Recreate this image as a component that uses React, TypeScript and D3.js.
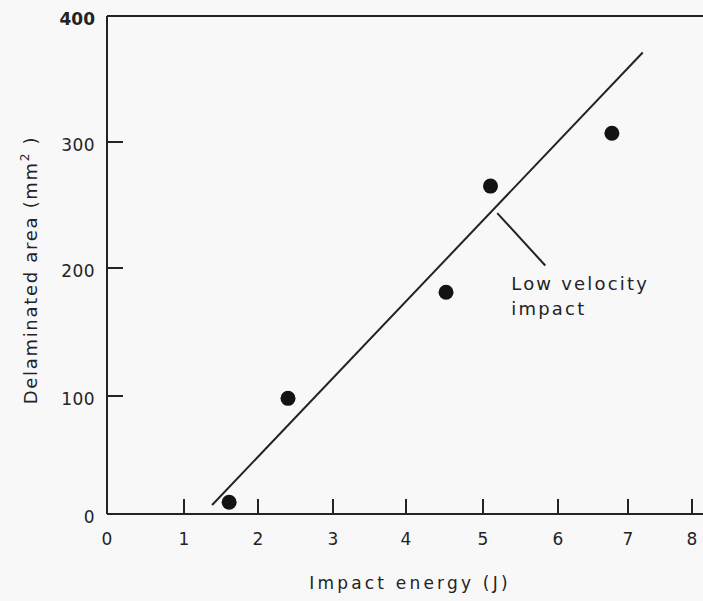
import React from "react";
import * as d3 from "d3";

// Impact tests: delaminated area against impact energy
const energyTicks = [0, 1, 2, 3, 4, 5, 6, 7, 8];
const areaTicks = [0, 100, 200, 300, 400];
const impactEnergy = [1.61, 2.4, 4.52, 5.1, 6.77];
const delaminatedArea = [10, 98, 181, 265, 307];
// straight-line fit through the measurements
const fitEnergy = [1.38, 7.23];
const fitArea = [7.6, 371];
// callout
const calloutLines = ["Low velocity", "impact"];
const calloutFrom = [5.19, 243.6];
const calloutTo = [5.83, 202];

const W = 703;
const H = 601;
const FONT = "'DejaVu Sans', 'Open Sans', sans-serif";
const INK = "#232326";

export default function App() {
  // axis breakpoints (the printed axes are slightly uneven)
  const x = d3
    .scaleLinear()
    .domain(energyTicks)
    .range([107, 184, 258, 333, 406, 483, 558, 628, 692]);
  const y = d3
    .scaleLinear()
    .domain(areaTicks)
    .range([514, 396, 268, 142, 16]);

  const x0 = x(0);
  const y0 = y(0);
  const yTop = y(400);

  const fitPath = d3.line<number>()
    .x((d) => x(fitEnergy[d]))
    .y((d) => y(fitArea[d]))([0, 1]) as string;

  const cx1 = x(calloutFrom[0]);
  const cy1 = y(calloutFrom[1]);
  const cx2 = x(calloutTo[0]);
  const cy2 = y(calloutTo[1]);

  return (
    <svg
      width={W}
      height={H}
      style={{ position: "absolute", left: 0, top: 0, background: "#f8f8f9" }}
      fontFamily={FONT}
    >
      <rect x={0} y={0} width={W} height={H} fill="#f8f8f9" />

      {/* frame: left axis, top rule, bottom axis */}
      <line x1={x0} y1={yTop} x2={x0} y2={y0} stroke={INK} strokeWidth={2} />
      <line x1={x0} y1={yTop} x2={W} y2={yTop} stroke={INK} strokeWidth={2} />
      <line x1={x0} y1={y0} x2={W} y2={y0} stroke={INK} strokeWidth={2} />

      {/* y ticks and labels */}
      {areaTicks.map((t) => (
        <g key={"y" + t}>
          {t > 0 && t < 400 && (
            <line x1={x0} x2={x0 + 16} y1={y(t)} y2={y(t)} stroke={INK} strokeWidth={2} />
          )}
          <text
            x={95}
            y={y(t) + 9}
            textAnchor="end"
            fontSize={17}
            fill={INK}
            fontWeight={t === 400 ? "bold" : "normal"}
            letterSpacing={t === 400 ? 0 : 0.4}
          >
            {t}
          </text>
        </g>
      ))}

      {/* x ticks and labels */}
      {energyTicks.map((t) => (
        <g key={"x" + t}>
          {t > 0 && (
            <line x1={x(t)} x2={x(t)} y1={y0} y2={y0 - 15} stroke={INK} strokeWidth={2} />
          )}
          <text x={x(t)} y={545} textAnchor="middle" fontSize={17} fill={INK}>
            {t}
          </text>
        </g>
      ))}

      {/* fitted line */}
      <path d={fitPath} fill="none" stroke={INK} strokeWidth={2} />

      {/* measurements */}
      {impactEnergy.map((e, i) => (
        <circle key={i} cx={x(e)} cy={y(delaminatedArea[i])} r={7.5} fill="#131315" />
      ))}

      {/* callout */}
      <line x1={cx1} y1={cy1} x2={cx2} y2={cy2} stroke={INK} strokeWidth={2} />
      {calloutLines.map((s, i) => (
        <text
          key={s}
          x={cx2 - 34}
          y={cy2 + 25 + i * 25}
          fontSize={18}
          fill={INK}
          letterSpacing={2.2}
        >
          {s}
        </text>
      ))}

      {/* axis titles */}
      <text
        x={410}
        y={589}
        textAnchor="middle"
        fontSize={17}
        fill={INK}
        letterSpacing={3.2}
      >
        Impact energy (J)
      </text>
      <text
        transform={`translate(37,${270}) rotate(-90)`}
        textAnchor="middle"
        fontSize={18}
        fill={INK}
        letterSpacing={1.7}
      >
        Delaminated area (mm
        <tspan dy={-8} fontSize={12}>2</tspan>
        <tspan dy={8}> )</tspan>
      </text>
    </svg>
  );
}
